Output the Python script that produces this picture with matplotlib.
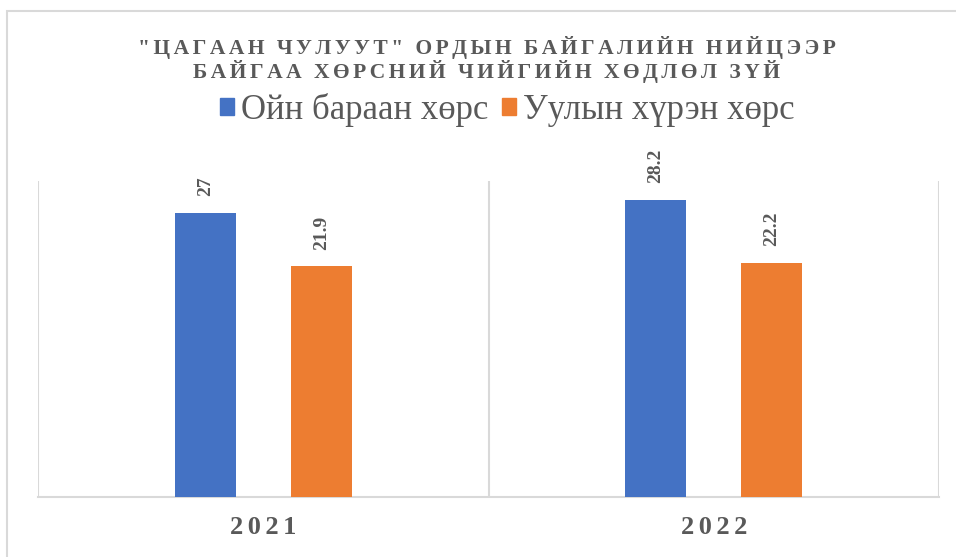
import matplotlib
matplotlib.use("Agg")
from matplotlib import pyplot as plt
from matplotlib.patches import Patch, Rectangle

# chart data
years = ['2021', '2022']
series_names = ['Ойн бараан хөрс', 'Уулын хүрэн хөрс']
forest_dark = [27, 28.2]
mountain_brown = [21.9, 22.2]
title_lines = ['"ЦАГААН ЧУЛУУТ" ОРДЫН БАЙГАЛИЙН НИЙЦЭЭР',
               'БАЙГАА ХӨРСНИЙ ЧИЙГИЙН ХӨДЛӨЛ ЗҮЙ']

blue = '#4472c4'
orange = '#ed7d31'
txt = '#595959'
grid = '#d9d9d9'

plt.rcParams['font.family'] = ['Liberation Serif', 'DejaVu Serif']


def spaced(s, sep='\u200a\u200a'):
    # fake letter spacing
    return sep.join(s)


fig = plt.figure(figsize=(9.56, 5.57), dpi=100)
ax = fig.add_axes([38 / 956, 60 / 557, 901 / 956, 316 / 557])

x = list(range(len(years)))
w = 0.136
off = 0.129
b1 = ax.bar([i - off for i in x], forest_dark, w, color=blue, zorder=3)
b2 = ax.bar([i + off for i in x], mountain_brown, w, color=orange, zorder=3)

for bars, vals in ((b1, forest_dark), (b2, mountain_brown)):
    for rect, v in zip(bars, vals):
        ax.annotate(f'{v:g}', (rect.get_x() + rect.get_width() / 2, v),
                    xytext=(0, 12), textcoords='offset points',
                    rotation=90, ha='center', va='bottom',
                    fontsize=14, fontweight='bold', color=txt)

ax.set_xlim(-0.5, 1.5)
ax.set_ylim(0, 30)
ax.set_xticks(x)
ax.set_xticklabels([spaced(y) for y in years], fontsize=19,
                   fontweight='bold', color=txt)
ax.set_xticks([-0.5, 0.5, 1.5], minor=True)
ax.tick_params(axis='x', which='both', length=0, pad=14)
ax.set_yticks([])
ax.grid(axis='x', which='minor', color=grid, linewidth=1.5, zorder=0)
for s in ['top', 'left', 'right']:
    ax.spines[s].set_visible(False)
ax.spines['bottom'].set_color(grid)
ax.spines['bottom'].set_linewidth(1.5)

fig.text(0.509, 0.893, '\n'.join(spaced(t) for t in title_lines),
         ha='center', va='center', fontsize=15.5, fontweight='bold',
         color=txt, linespacing=1.08)

handles = [Patch(color=blue), Patch(color=orange)]
fig.legend(handles, series_names, loc='center', bbox_to_anchor=(0.531, 0.8025),
           ncol=2, frameon=False, fontsize=25, handlelength=0.4,
           handleheight=0.4, handletextpad=0.2, columnspacing=0.4,
           labelcolor=txt)

# outer chart border
fig.add_artist(Rectangle((7 / 956, -0.1), 1.2, (557 - 11) / 557 + 0.1,
                         transform=fig.transFigure, fill=False,
                         edgecolor=grid, linewidth=1.5))

fig.savefig('out.png', dpi=100)
